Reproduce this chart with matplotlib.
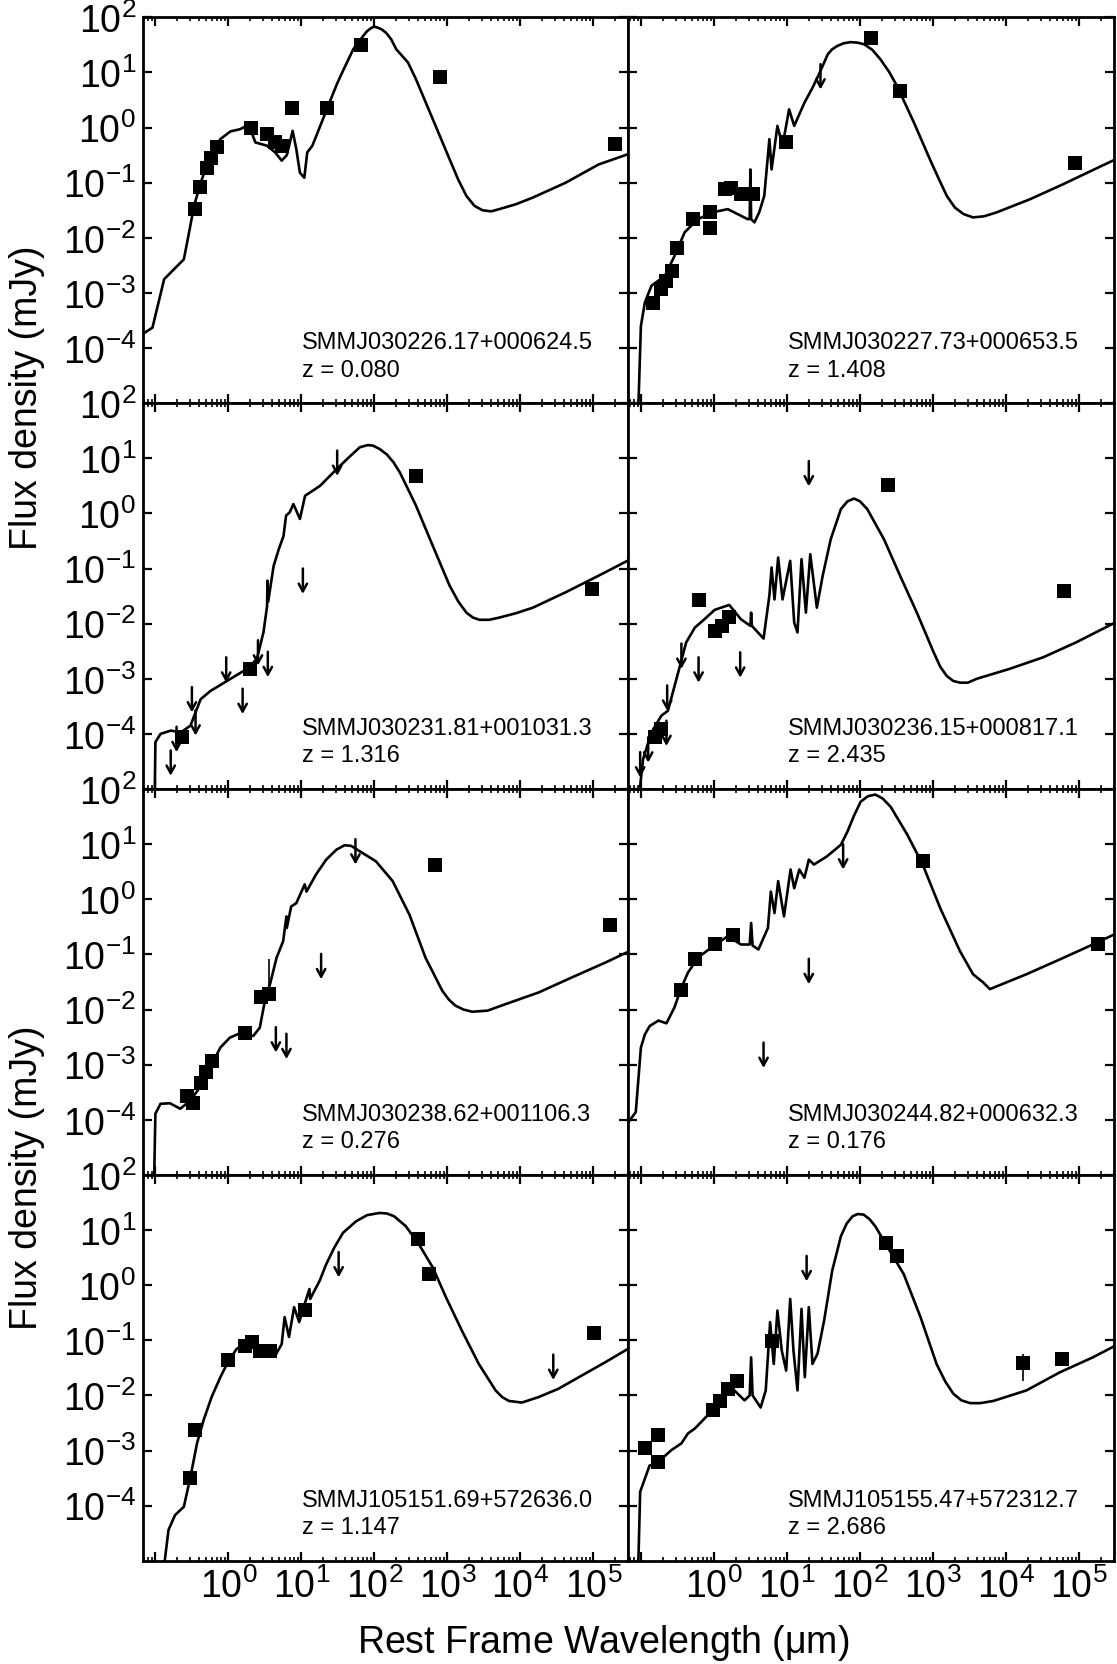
import matplotlib.pyplot as plt
import numpy as np
from matplotlib.ticker import FixedLocator, FuncFormatter, LogLocator, NullFormatter

plt.rcParams['font.family'] = ['Liberation Sans', 'DejaVu Sans']
plt.rcParams['mathtext.fontset'] = 'custom'
plt.rcParams['mathtext.rm'] = 'Liberation Sans'
plt.rcParams['mathtext.it'] = 'Liberation Sans:italic'
plt.rcParams['mathtext.bf'] = 'Liberation Sans:bold'

# all values are log10(wavelength / um) and log10(flux / mJy)
names = ['SMMJ030226.17+000624.5', 'SMMJ030227.73+000653.5',
         'SMMJ030231.81+001031.3', 'SMMJ030236.15+000817.1',
         'SMMJ030238.62+001106.3', 'SMMJ030244.82+000632.3',
         'SMMJ105151.69+572636.0', 'SMMJ105155.47+572312.7']
redshifts = ['0.080', '1.408', '1.316', '2.435', '0.276', '0.176', '1.147', '2.686']

# ---- detections (log w, log f)
det1 = np.array([[-0.464, -1.47], [-0.39, -1.07], [-0.29, -0.73], [-0.236, -0.56],
                 [-0.155, -0.36], [0.31, 0.0], [0.527, -0.12], [0.64, -0.26],
                 [0.73, -0.33], [0.87, 0.36], [1.345, 0.36], [1.81, 1.49],
                 [2.90, 0.92], [5.30, -0.29]])
det2 = np.array([[-0.83, -3.19], [-0.72, -2.93], [-0.65, -2.78], [-0.58, -2.60],
                 [-0.51, -2.18], [-0.29, -1.66], [-0.06, -1.53], [-0.06, -1.83],
                 [0.146, -1.12], [0.236, -1.10], [0.37, -1.21], [0.53, -1.21],
                 [0.99, -0.27], [2.15, 1.63], [2.55, 0.66], [4.94, -0.64]])
det3 = np.array([[-0.63, -4.06], [0.29, -2.82], [2.57, 0.68], [4.975, -1.37]])
det4 = np.array([[-0.81, -4.06], [-0.72, -3.91], [-0.21, -1.57], [0.02, -2.14],
                 [0.11, -2.04], [0.21, -1.87], [2.39, 0.51], [4.80, -1.40]])
det5 = np.array([[-0.57, -3.56], [-0.48, -3.70], [-0.37, -3.34], [-0.30, -3.13],
                 [-0.23, -2.93], [0.23, -2.42], [0.44, -1.78], [0.56, -1.72],
                 [2.83, 0.63], [5.23, -0.46]])
det6 = np.array([[-0.455, -1.64], [-0.26, -1.09], [0.01, -0.82], [0.26, -0.64],
                 [2.86, 0.69], [5.26, -0.81]])
det7 = np.array([[-0.52, -3.49], [-0.455, -2.63], [0.0, -1.36], [0.23, -1.10],
                 [0.32, -1.04], [0.43, -1.19], [0.57, -1.19], [1.045, -0.45],
                 [2.60, 0.83], [2.75, 0.21], [5.01, -0.87]])
det8 = np.array([[-0.945, -2.96], [-0.77, -2.72], [-0.76, -3.20], [-0.01, -2.27],
                 [0.08, -2.10], [0.19, -1.88], [0.32, -1.73], [0.79, -1.01],
                 [2.36, 0.77], [2.51, 0.53], [4.23, -1.42], [4.77, -1.34]])

# ---- upper limits (log w, log f at arrow tip)
lim1 = np.empty((0, 2))
lim2 = np.array([[1.46, 0.69]])
lim3 = np.array([[-0.79, -4.76], [-0.71, -4.33], [-0.50, -3.61], [-0.45, -4.03],
                 [-0.03, -3.07], [0.195, -3.64], [0.405, -2.76], [0.54, -2.97],
                 [1.02, -1.46], [1.49, 0.68]])
lim4 = np.array([[-1.01, -4.79], [-0.90, -4.52], [-0.65, -4.22], [-0.64, -3.58],
                 [-0.445, -2.82], [-0.21, -3.07], [0.36, -2.98], [1.30, 0.49]])
lim5 = np.array([[0.65, -2.78], [0.795, -2.90], [1.27, -1.45], [1.74, 0.63]])
lim6 = np.array([[0.68, -3.06], [1.30, -1.54], [1.77, 0.54]])
lim7 = np.array([[1.51, 0.14], [4.45, -1.72]])
lim8 = np.array([[1.27, 0.07]])

# ---- error bars (log w, log f low, log f high)
err5 = np.array([[0.56, -1.72, -1.09]])
err8 = np.array([[4.23, -1.73, -1.25]])

# ---- best-fit SED templates (log w, log f)
sed1 = np.array([[-1.17, -3.75], [-1.145, -3.72], [-1.04, -3.63], [-0.88, -2.75],
                 [-0.79, -2.63], [-0.61, -2.39], [-0.54, -1.91], [-0.47, -1.42],
                 [-0.38, -1.0], [-0.245, -0.515], [-0.11, -0.21], [0.027, -0.07],
                 [0.16, -0.03], [0.277, 0.05], [0.37, -0.27], [0.53, -0.33],
                 [0.64, -0.45], [0.73, -0.6], [0.80, -0.5], [0.88, -0.06],
                 [0.93, -0.39], [0.98, -0.82], [1.04, -0.91], [1.08, -0.45],
                 [1.15, -0.33], [1.24, -0.03], [1.33, 0.27], [1.42, 0.57],
                 [1.49, 0.8], [1.57, 1.03], [1.71, 1.42], [1.845, 1.66],
                 [1.90, 1.75], [1.96, 1.81], [2.00, 1.83], [2.05, 1.81],
                 [2.10, 1.78], [2.16, 1.72], [2.23, 1.60], [2.30, 1.42],
                 [2.46, 1.18], [2.57, 0.875], [2.80, 0.15], [3.03, -0.575],
                 [3.15, -0.95], [3.26, -1.24], [3.37, -1.42], [3.48, -1.5],
                 [3.60, -1.52], [3.71, -1.48], [3.94, -1.39], [4.17, -1.27],
                 [4.62, -1.0], [5.07, -0.67], [5.48, -0.48]])
sed2 = np.array([[-1.04, -5.3], [-1.0, -3.6], [-0.945, -3.17], [-0.855, -2.87],
                 [-0.67, -2.69], [-0.54, -2.33], [-0.40, -1.9], [-0.22, -1.66],
                 [0.01, -1.53], [0.19, -1.48], [0.46, -1.66], [0.49, -1.66],
                 [0.50, -0.76], [0.51, -1.66], [0.555, -1.72], [0.62, -1.54],
                 [0.69, -1.24], [0.76, -0.21], [0.79, -0.76], [0.87, 0.03],
                 [0.94, -0.33], [1.03, 0.33], [1.10, 0.03], [1.24, 0.45],
                 [1.35, 0.72], [1.44, 0.97], [1.56, 1.33], [1.62, 1.42],
                 [1.69, 1.48], [1.78, 1.53], [1.87, 1.55], [1.97, 1.54],
                 [2.06, 1.51], [2.17, 1.41], [2.28, 1.24], [2.40, 1.01],
                 [2.51, 0.75], [2.74, 0.09], [2.96, -0.58], [3.08, -0.93],
                 [3.19, -1.24], [3.30, -1.45], [3.42, -1.57], [3.55, -1.63],
                 [3.70, -1.61], [3.87, -1.54], [4.33, -1.30], [4.78, -1.03],
                 [5.24, -0.74], [5.48, -0.59]])
sed3 = np.array([[-1.01, -5.3], [-1.0, -4.15], [-0.93, -4.0], [-0.79, -3.94],
                 [-0.65, -3.97], [-0.52, -3.85], [-0.38, -3.37], [-0.245, -3.22],
                 [-0.02, -3.04], [0.255, -2.82], [0.39, -2.64], [0.48, -2.16],
                 [0.53, -1.68], [0.535, -1.22], [0.545, -1.6], [0.62, -0.95],
                 [0.69, -0.65], [0.755, -0.41], [0.79, -0.04], [0.84, 0.02],
                 [0.89, 0.17], [0.98, -0.10], [1.05, 0.32], [1.255, 0.5],
                 [1.48, 0.80], [1.66, 1.03], [1.80, 1.20], [1.91, 1.24],
                 [1.98, 1.23], [2.07, 1.17], [2.17, 1.07], [2.26, 0.93],
                 [2.35, 0.74], [2.57, 0.14], [2.80, -0.59], [3.03, -1.31],
                 [3.15, -1.60], [3.26, -1.80], [3.35, -1.89], [3.44, -1.93],
                 [3.57, -1.93], [3.71, -1.89], [3.94, -1.81], [4.17, -1.71],
                 [4.62, -1.43], [5.07, -1.13], [5.48, -0.85]])
sed4 = np.array([[-1.04, -5.3], [-0.97, -4.46], [-0.855, -3.97], [-0.72, -3.67],
                 [-0.63, -3.58], [-0.49, -2.89], [-0.38, -2.34], [-0.26, -2.07],
                 [-0.13, -1.92], [0.01, -1.75], [0.21, -1.66], [0.37, -1.92],
                 [0.50, -2.04], [0.51, -1.8], [0.52, -2.04], [0.68, -2.27],
                 [0.76, -1.49], [0.79, -0.98], [0.83, -1.56], [0.88, -0.80],
                 [0.94, -1.56], [1.045, -0.86], [1.10, -1.98], [1.145, -2.16],
                 [1.20, -0.83], [1.26, -1.80], [1.32, -0.74], [1.41, -1.71],
                 [1.49, -1.13], [1.60, -0.47], [1.74, 0.08], [1.83, 0.22],
                 [1.92, 0.27], [2.00, 0.22], [2.10, 0.08], [2.33, -0.47],
                 [2.55, -1.13], [2.78, -1.80], [3.01, -2.52], [3.10, -2.78],
                 [3.19, -2.95], [3.28, -3.04], [3.37, -3.07], [3.48, -3.07],
                 [3.6, -3.0], [4.05, -2.82], [4.51, -2.61], [4.96, -2.34],
                 [5.48, -1.99]])
sed5 = np.array([[-1.02, -5.3], [-1.0, -3.89], [-0.93, -3.71], [-0.80, -3.70],
                 [-0.66, -3.80], [-0.52, -3.65], [-0.39, -3.41], [-0.25, -3.05],
                 [-0.11, -2.69], [0.02, -2.51], [0.16, -2.43], [0.34, -2.48],
                 [0.43, -2.33], [0.50, -1.84], [0.57, -1.54], [0.66, -1.06],
                 [0.75, -0.76], [0.795, -0.31], [0.80, -0.52], [0.86, -0.13],
                 [0.93, -0.07], [1.045, 0.27], [1.07, 0.14], [1.20, 0.45],
                 [1.34, 0.72], [1.48, 0.90], [1.59, 0.98], [1.68, 0.97],
                 [1.80, 0.87], [2.02, 0.69], [2.25, 0.33], [2.48, -0.28],
                 [2.70, -1.06], [2.93, -1.66], [3.02, -1.82], [3.11, -1.93],
                 [3.22, -2.00], [3.34, -2.04], [3.55, -2.02], [3.80, -1.90],
                 [4.25, -1.69], [4.70, -1.42], [5.16, -1.15], [5.48, -0.95]])
sed6 = np.array([[-1.17, -4.04], [-1.07, -3.86], [-1.0, -2.69], [-0.945, -2.45],
                 [-0.88, -2.30], [-0.76, -2.20], [-0.65, -2.25], [-0.54, -1.96],
                 [-0.445, -1.60], [-0.355, -1.33], [-0.22, -1.06], [-0.04, -0.88],
                 [0.19, -0.67], [0.37, -0.82], [0.49, -0.82], [0.51, -0.43],
                 [0.53, -0.84], [0.61, -0.91], [0.74, -0.52], [0.78, 0.14],
                 [0.83, -0.25], [0.88, 0.33], [0.96, -0.31], [1.05, 0.54],
                 [1.10, 0.20], [1.17, 0.54], [1.24, 0.39], [1.30, 0.72],
                 [1.37, 0.63], [1.55, 0.78], [1.74, 0.99], [1.83, 1.23],
                 [1.92, 1.52], [2.01, 1.77], [2.11, 1.87], [2.21, 1.90],
                 [2.31, 1.83], [2.42, 1.68], [2.65, 1.17], [2.86, 0.63],
                 [3.10, -0.16], [3.37, -0.94], [3.55, -1.36], [3.69, -1.51],
                 [3.78, -1.63], [4.28, -1.36], [4.74, -1.09], [5.19, -0.82],
                 [5.48, -0.64]])
sed7 = np.array([[-0.90, -5.3], [-0.82, -4.44], [-0.73, -4.17], [-0.61, -4.02],
                 [-0.52, -3.48], [-0.43, -2.87], [-0.34, -2.45], [-0.23, -2.03],
                 [-0.11, -1.67], [-0.02, -1.43], [0.11, -1.16], [0.25, -1.04],
                 [0.43, -1.16], [0.64, -1.28], [0.73, -1.07], [0.77, -0.58],
                 [0.83, -0.94], [0.90, -0.40], [0.97, -0.67], [1.045, -0.34],
                 [1.11, -0.07], [1.12, -0.25], [1.25, 0.08], [1.34, 0.38],
                 [1.45, 0.68], [1.57, 0.95], [1.75, 1.16], [1.90, 1.27],
                 [2.07, 1.31], [2.17, 1.30], [2.27, 1.25], [2.43, 1.07],
                 [2.61, 0.74], [2.80, 0.32], [2.98, -0.22], [3.20, -0.83],
                 [3.43, -1.43], [3.66, -1.91], [3.75, -2.03], [3.84, -2.10],
                 [4.02, -2.13], [4.25, -2.03], [4.52, -1.88], [4.84, -1.64],
                 [5.16, -1.40], [5.48, -1.15]])
sed8 = np.array([[-1.04, -5.3], [-1.01, -3.75], [-0.97, -3.60], [-0.88, -3.27],
                 [-0.79, -3.24], [-0.58, -2.99], [-0.445, -2.87], [-0.355, -2.69],
                 [-0.26, -2.60], [-0.10, -2.38], [0.01, -2.21], [0.145, -1.97],
                 [0.28, -1.91], [0.42, -2.09], [0.49, -2.0], [0.51, -1.31],
                 [0.53, -2.0], [0.64, -2.22], [0.71, -1.91], [0.77, -0.67],
                 [0.82, -1.43], [0.87, -0.46], [0.93, -1.19], [0.99, -1.55],
                 [1.045, -0.25], [1.09, -1.19], [1.145, -1.91], [1.20, -0.43],
                 [1.245, -1.67], [1.30, -0.40], [1.35, -1.43], [1.42, -1.24],
                 [1.51, -0.64], [1.62, 0.26], [1.74, 0.89], [1.82, 1.12],
                 [1.90, 1.25], [1.97, 1.29], [2.05, 1.28], [2.13, 1.20],
                 [2.21, 1.07], [2.37, 0.71], [2.60, 0.20], [2.83, -0.58],
                 [3.05, -1.43], [3.17, -1.75], [3.28, -1.97], [3.39, -2.09],
                 [3.51, -2.14], [3.65, -2.14], [3.83, -2.10], [4.28, -1.91],
                 [4.74, -1.58], [5.19, -1.31], [5.48, -1.11]])

dets = [det1, det2, det3, det4, det5, det6, det7, det8]
lims = [lim1, lim2, lim3, lim4, lim5, lim6, lim7, lim8]
seds = [sed1, sed2, sed3, sed4, sed5, sed6, sed7, sed8]
errs = {4: err5, 7: err8}

fig = plt.figure(figsize=(11.17, 16.65), dpi=100)
gs = fig.add_gridspec(4, 2, left=0.128, right=0.9973, top=0.989, bottom=0.062,
                      wspace=0, hspace=0)

xt_major = [1e-1, 1, 1e1, 1e2, 1e3, 1e4, 1e5]
yt_major = [1e-4, 1e-3, 1e-2, 1e-1, 1, 1e1, 1e2]

for i in range(8):
    r, c = divmod(i, 2)
    ax = fig.add_subplot(gs[r, c])
    sed = seds[i]
    ax.plot(10 ** sed[:, 0], 10 ** sed[:, 1], '-', color='k', lw=1.9, zorder=2)
    d = dets[i]
    ax.plot(10 ** d[:, 0], 10 ** d[:, 1], 's', color='k', ms=9.5, mew=0, zorder=3)
    if i in errs:
        e = errs[i]
        ax.vlines(10 ** e[:, 0], 10 ** e[:, 1], 10 ** e[:, 2], color='k', lw=1.2)
    for lx, lf in lims[i]:
        ax.annotate('', xy=(10 ** lx, 10 ** lf), xytext=(10 ** lx, 10 ** (lf + 0.46)),
                    arrowprops=dict(arrowstyle='->,head_length=0.55,head_width=0.3',
                                    lw=1.8, color='k', shrinkA=0, shrinkB=0))

    ax.set_xscale('log')
    ax.set_yscale('log')
    ax.set_xlim(10 ** -1.17, 10 ** 5.48)
    ax.set_ylim(1e-5, 1e2)

    ax.xaxis.set_major_locator(FixedLocator(xt_major))
    ax.xaxis.set_minor_locator(LogLocator(base=10, subs=np.arange(2, 10), numticks=20))
    ax.xaxis.set_minor_formatter(NullFormatter())
    ax.yaxis.set_major_locator(FixedLocator(yt_major))
    ax.yaxis.set_minor_locator(FixedLocator([]))

    if r == 3:
        ax.xaxis.set_major_formatter(
            FuncFormatter(lambda v, p: '' if v < 0.5 else r'$10^{%d}$' % round(np.log10(v))))
    else:
        ax.xaxis.set_major_formatter(NullFormatter())
    if c == 0:
        ax.yaxis.set_major_formatter(FuncFormatter(lambda v, p: r'$10^{%d}$' % round(np.log10(v))))
    else:
        ax.yaxis.set_major_formatter(NullFormatter())

    ax.tick_params(which='both', direction='in', top=True, right=True, labelsize=27)
    ax.tick_params(which='major', length=6.5, width=1.6, pad=5)
    ax.tick_params(which='minor', length=3.2, width=1.2)
    for s in ax.spines.values():
        s.set_linewidth(2.0)

    ax.text(0.328, 0.158, names[i], transform=ax.transAxes, fontsize=17, va='center')
    ax.text(0.328, 0.087, 'z = ' + redshifts[i], transform=ax.transAxes, fontsize=17,
            va='center')

fig.text(0.024, 1 - 398 / 1665, 'Flux density (mJy)', rotation=90, fontsize=27,
         ha='center', va='center')
fig.text(0.024, 1 - 1178 / 1665, 'Flux density (mJy)', rotation=90, fontsize=27,
         ha='center', va='center')
fig.text(0.54, 0.0135, r'Rest Frame Wavelength ($\mathrm{\mu}$m)', fontsize=27,
         ha='center', va='center')

fig.savefig('out.png', dpi=100)
